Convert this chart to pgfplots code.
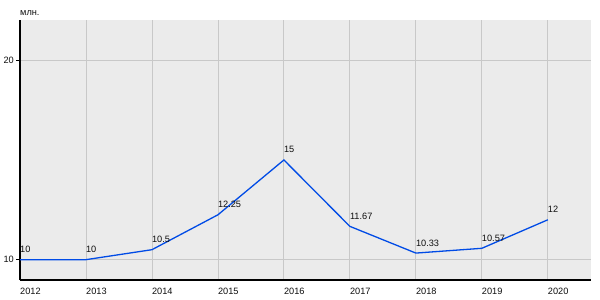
\documentclass[border=0pt]{standalone}
\usepackage{fontspec}
\setmainfont{Liberation Sans}
\usepackage{pgfplots}
\pgfplotsset{compat=1.18}
\definecolor{bgc}{RGB}{235,235,235}
\definecolor{gridc}{RGB}{200,200,200}
\definecolor{linec}{RGB}{0,75,230}
\definecolor{txt}{RGB}{15,15,15}
\begin{document}
\begin{tikzpicture}
\path[use as bounding box] (0,0) rectangle (600bp,300bp);
\begin{axis}[
  at={(20bp,20bp)}, anchor=south west,
  scale only axis, width=570.7bp, height=260bp,
  xmin=2012, xmax=2020.65, ymin=8.98, ymax=22.02,
  axis background/.style={fill=bgc},
  axis lines=left,
  axis line style={-, black, line width=1.2bp},
  xtick={2012,...,2020},
  ytick={10,20},
  grid=major,
  major grid style={gridc, line width=0.8bp},
  x tick style={draw=none},
  y tick style={black, line width=0.8bp},
  tick align=outside,
  major tick length=4bp,
  /pgf/number format/assume math mode=true,
  /pgf/number format/1000 sep={},
  tick label style={font=\fontsize{9.2bp}{10bp}\selectfont, text=txt},
  xticklabel style={anchor=north west, inner sep=0pt, yshift=-4bp},
  yticklabel style={anchor=east, inner sep=0pt, xshift=-2bp},
  nodes near coords,
  point meta=explicit symbolic,
  nodes near coords style={anchor=base west, inner sep=0pt, yshift=7bp, xshift=-0.5bp,
    font=\fontsize{9.2bp}{10bp}\selectfont, text=txt},
  clip=false,
]
\addplot[linec, line width=1.3bp, mark=none] table[meta=lab] {
x y lab
2012 10 10
2013 10 10
2014 10.5 10.5
2015 12.25 12.25
2016 15 15
2017 11.67 11.67
2018 10.33 10.33
2019 10.57 10.57
2020 12 12
};
\node[anchor=base west, inner sep=0pt, font=\fontsize{9.2bp}{10bp}\selectfont, text=txt]
  at (rel axis cs:0,1) [yshift=4bp] {млн.};
\end{axis}
\end{tikzpicture}
\end{document}
